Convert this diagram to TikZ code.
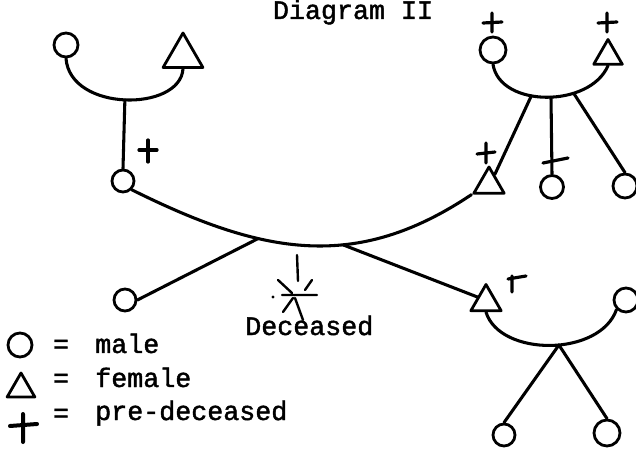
\documentclass[tikz,border=0pt]{standalone}
\usepackage{fontspec}
\newfontfamily\tw{Liberation Mono}[FakeBold=1.6]
\usetikzlibrary{shapes.geometric}
\begin{document}
\begin{tikzpicture}[x=0.75pt,y=-0.75pt,
  kin/.style={line width=2.3pt, line cap=round},
  male/.style={circle, draw, line width=2.1pt, inner sep=0pt},
  female/.style={regular polygon, regular polygon sides=3, draw, line width=2.1pt, inner sep=0pt, line join=round},
  crossline/.style={line width=2.4pt, line cap=round},
  lbl/.style={font=\tw\fontsize{20}{24}\selectfont, inner sep=0pt, anchor=base west}]
\useasboundingbox (0,0) rectangle (636,449);

\node[lbl, anchor=base, text height=12pt] (title) at (353,19) {Diagram II};

% persons
\node[male, minimum size=18pt] (A) at (66,45) {};
\node[female, minimum size=34.5pt] (B) at (183,56) {};
\node[male, minimum size=16.5pt] (C) at (123,181) {};
\node[female, minimum size=26.25pt] (D) at (489,184.5) {};
\node[male, minimum size=19.5pt] (E) at (493,50) {};
\node[female, minimum size=24.75pt] (F) at (608,56) {};
\node[male, minimum size=18pt] (G) at (625,186) {};
\node[male, minimum size=17.25pt] (H) at (552,187) {};
\node[female, minimum size=26.25pt] (I) at (486,302) {};
\node[male, minimum size=18pt] (J) at (626,300) {};
\node[male, minimum size=16.5pt] (K) at (504,435) {};
\node[male, minimum size=19.5pt] (L) at (607,433) {};
\node[male, minimum size=16.5pt] (M) at (125,300) {};

% marriages and descent
\draw[kin] (A.south) .. controls (70,112) and (180,112) .. (B.south) coordinate[pos=0.5] (ab);
\draw[kin] (ab) -- (C.north);
\draw[kin] (C.south east) .. controls (263,255) and (356,272) .. (D.corner 2) coordinate[pos=0.35] (bl) coordinate[pos=0.61] (br);
\draw[kin] (bl) -- (M.east);
\draw[kin] (br) -- (I.150);
\draw[kin] (E.south) .. controls (500,108) and (590,108) .. (F.south) coordinate[pos=0.4] (tl) coordinate[pos=0.53] (tm) coordinate[pos=0.68] (tr);
\draw[kin] (tl) -- (D.60);
\draw[kin] (tm) -- (H.north);
\draw[kin] (tr) -- (G.north);
\draw[kin] (I.south) .. controls (500,357) and (600,357) .. (J.south west) coordinate[pos=0.55] (bk);
\draw[kin] (bk) -- (K.north);
\draw[kin] (bk) -- (L.north);

% pre-deceased marks
\draw[crossline] (139,150) -- (157,150) (148,140) -- (148,162);
\draw[crossline] (483,23) -- (502,22) (492,13) -- (492,32);
\draw[crossline] (598,23) -- (617,22) (607,13) -- (607,32);
\draw[crossline] (477,154) -- (495,152) (486,143) -- (486,163);
\draw[crossline] (543,163) -- (568,158);
\draw[crossline] (512,276) -- (512,292) (508,279) -- (526,276);

% deceased
\draw[line width=1.8pt, line cap=round] (297,255) -- (298,281) (278,280) -- (292,293) (312,280) -- (305,290) (282,295) -- (317,295) (283,312) -- (293,298) (303,320) -- (295,298);
\fill (273,297) circle (1.6);
\node[lbl] (dec) at (245,335) {Deceased};

% legend
\node[male, minimum size=18pt] (lm) at (20,345) {};
\node[female, minimum size=24pt] (lf) at (21,389) {};
\draw[crossline, line width=3pt] (10,426) -- (37,424) (23,414) -- (23,442);
\node[lbl, anchor=base] (e1) at (61,353) {=};
\node[lbl, anchor=base] (e2) at (61,387) {=};
\node[lbl, anchor=base] (e3) at (61,422) {=};
\node[lbl] (t1) at (95,353) {male};
\node[lbl] (t2) at (95,387) {female};
\node[lbl] (t3) at (95,420) {pre-deceased};
\end{tikzpicture}
\end{document}
